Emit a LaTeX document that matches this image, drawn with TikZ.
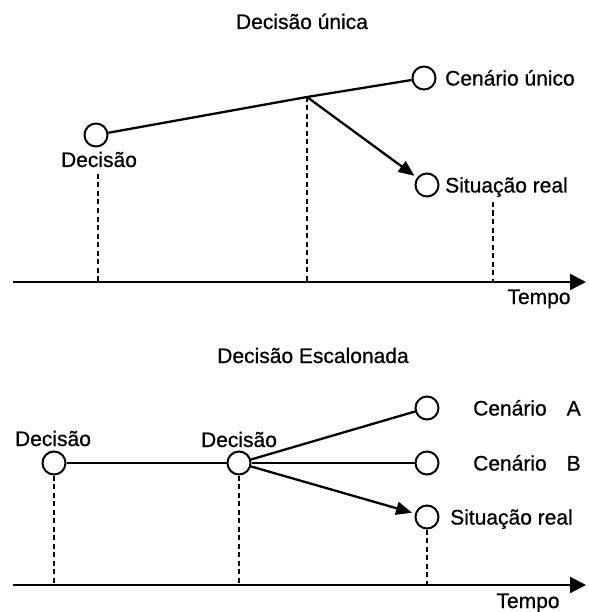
\documentclass[tikz,border=0pt]{standalone}
\usepackage{fontspec}
\setmainfont{Liberation Sans}
\newfontfamily\heavyfont{Liberation Sans}[FakeBold=0.7]
\usetikzlibrary{arrows.meta}
\begin{document}
\begin{tikzpicture}[x=1pt,y=-1pt,
  font=\heavyfont\fontsize{21}{25}\selectfont,
  dot/.style={circle,draw,line width=2pt,minimum size=23pt,inner sep=0pt},
  conn/.style={line width=2.3pt},
  guide/.style={line width=2.3pt,dash pattern=on 5pt off 3.5pt},
  axis/.style={line width=2.3pt,-{Triangle[length=16pt,width=16pt]}},
  arr/.style={line width=2.3pt,-{Triangle[length=16pt,width=13pt]},shorten >=3pt},
  lbl/.style={inner sep=0pt,anchor=base},
  rlbl/.style={inner sep=0pt,anchor=base west}]
\useasboundingbox (0,0) rectangle (588,612);

% ---------- top: Decisão única ----------
\node[lbl] (title1) at (302,29) {Decisão única};
\node[dot] (d1) at (96,135) {};
\node[lbl] (t1) at (99,167) {Decisão};
\node[dot] (c1) at (424,78) {};
\node[rlbl] (tc1) at (445,85.5) {Cenário único};
\node[dot] (s1) at (427,185) {};
\node[rlbl] (ts1) at (445,192.5) {Situação real};
\node[lbl] (tempo1) at (539,304) {Tempo};

\coordinate (j1) at (307,97);
\coordinate (ax1s) at (13,282);
\coordinate (ax1e) at (586,282);
\coordinate (g1a) at (98,174);
\coordinate (g1b) at (98,282);
\coordinate (g2b) at (307,282);
\coordinate (g3a) at (493,202);
\coordinate (g3b) at (493,282);

\draw[conn] (d1) -- (j1) -- (c1);
\draw[arr] (j1) -- (s1);
\draw[guide] (g1a) -- (g1b);
\draw[guide] (j1) -- (g2b);
\draw[guide] (g3a) -- (g3b);
\draw[axis] (ax1s) -- (ax1e);

% ---------- bottom: Decisão Escalonada ----------
\node[lbl] (title2) at (313,363) {Decisão Escalonada};
\node[dot] (d2) at (54,463) {};
\node[lbl] (t2) at (53,446) {Decisão};
\node[dot] (d3) at (239,463) {};
\node[lbl] (t3) at (239,447) {Decisão};
\node[dot] (ca) at (427,408) {};
\node[rlbl] (tca) at (473,415.5) {Cenário\hspace{20pt}A};
\node[dot] (cb) at (427,463) {};
\node[rlbl] (tcb) at (473,470.5) {Cenário\hspace{20pt}B};
\node[dot] (s2) at (427,517) {};
\node[rlbl] (ts2) at (450,524.5) {Situação real};
\node[lbl] (tempo2) at (528,608) {Tempo};

\coordinate (ax2s) at (13,585);
\coordinate (ax2e) at (586,585);
\coordinate (h1) at (54,585);
\coordinate (h2) at (239,585);
\coordinate (h3) at (427,585);

\draw[conn] (d2) -- (d3);
\draw[conn] (d3) -- (ca);
\draw[conn] (d3) -- (cb);
\draw[arr] (d3) -- (s2);
\draw[guide] (d2) -- (h1);
\draw[guide] (d3) -- (h2);
\draw[guide] (s2) -- (h3);
\draw[axis] (ax2s) -- (ax2e);
\end{tikzpicture}
\end{document}
